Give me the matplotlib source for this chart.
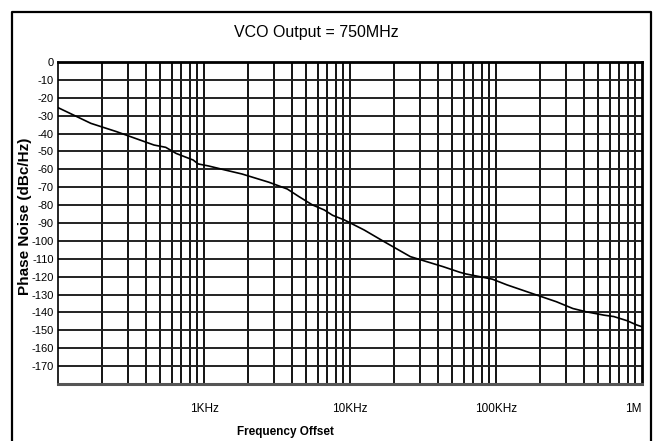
import matplotlib
matplotlib.use("Agg")
import matplotlib.pyplot as plt
from matplotlib.lines import Line2D

plt.rcParams['font.family'] = ['Liberation Sans', 'DejaVu Sans']

# phase noise curve
freq = [100, 168, 251, 454, 547, 644, 843, 914, 1072, 1399, 1820, 2780, 3720,
        4480, 5530, 6660, 7600, 9150, 12500, 17100, 25900, 33500, 43400, 56300,
        62400, 94400, 119000, 171000, 259000, 336000, 413000, 548000, 641000,
        789000, 920000, 1000000]
noise = [-25.5, -34.3, -38.9, -46.4, -47.7, -51.1, -54.8, -57.0, -58.1, -60.4,
         -62.6, -67.2, -71.0, -75.3, -79.9, -82.7, -85.7, -88.3, -93.9, -100.4,
         -108.8, -111.6, -114.4, -117.5, -118.5, -121.4, -124.6, -129.0, -134.0,
         -137.8, -139.6, -141.5, -142.3, -144.6, -147.0, -148.0]

xtick_pos = [1e3, 1e4, 1e5, 1e6]
xtick_lab = ['1KHz', '10KHz', '100KHz', '1M']
ytick_pos = list(range(0, -180, -10))

fig = plt.figure(figsize=(6.63, 4.41), dpi=100)
ax = fig.add_axes([58/663, 1-384/441, (642-58)/663, (384-62)/441])

ax.set_xscale('log')
ax.set_xlim(100, 1e6)
ax.set_ylim(-180, 0)

# grid: every log minor line + every 10 dB
for dec in [100, 1000, 10000, 100000]:
    for k in range(1, 10):
        f = dec * k
        if f > 100:
            ax.axvline(f, color='black', lw=1.3, zorder=1)
for v in range(-10, -180, -10):
    ax.axhline(v, color='#222222', lw=1.4, zorder=1)

ax.plot(freq, noise, color='black', lw=1.2, zorder=3)

ax.set_xticks(xtick_pos)
ax.set_xticklabels(xtick_lab, fontsize=8.5)
ax.xaxis.set_minor_locator(matplotlib.ticker.NullLocator())
ax.tick_params(axis='x', length=0, pad=14)
ax.get_xticklabels()[-1].set_horizontalalignment('right')

ax.set_yticks(ytick_pos)
ax.set_yticklabels([str(v) for v in ytick_pos], fontsize=8)
ax.tick_params(axis='y', length=0, pad=3)

ax.spines['top'].set_linewidth(2)
ax.spines['bottom'].set_linewidth(2.2)
ax.spines['bottom'].set_color('#555555')
ax.spines['left'].set_linewidth(1.2)
ax.spines['right'].set_linewidth(2)

fig.text(316/663, 1-33/441, 'VCO Output = 750MHz', fontsize=11.5,
         ha='center', va='center')
fig.text(285/663, 1-432/441, 'Frequency Offset', fontsize=8.5,
         fontweight='bold', ha='center', va='center')
fig.text(25/663, 1-216/441, 'Phase Noise (dBc/Hz)', fontsize=11,
         fontweight='bold', rotation=90, ha='center', va='center')

# outer frame (open at the bottom)
fx0, fx1, fy1 = 12/663, 651/663, 1-12/441
fig.add_artist(Line2D([fx0, fx0, fx1, fx1], [0, fy1, fy1, 0],
                      color='black', lw=1.6, transform=fig.transFigure))

fig.savefig('out.png', dpi=100)
